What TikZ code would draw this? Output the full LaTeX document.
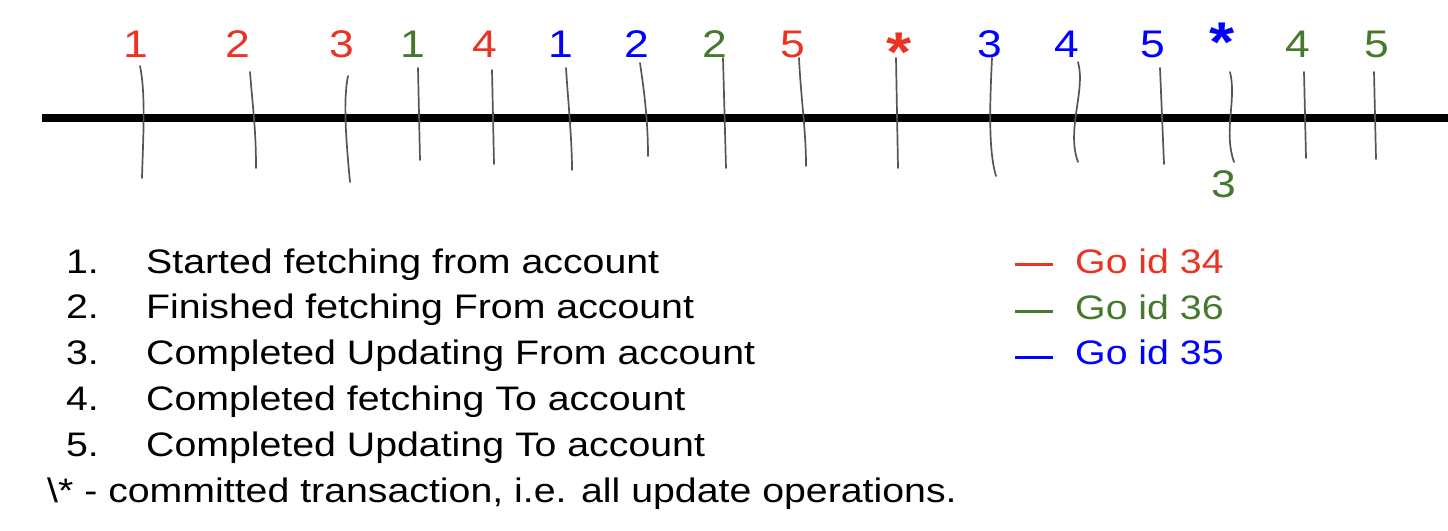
\documentclass[tikz,border=0pt]{standalone}
\usepackage{fontspec}
\setmainfont{Liberation Sans}[FakeStretch=1.155]
\definecolor{gred}{RGB}{234,51,35}
\definecolor{ggreen}{RGB}{70,120,45}
\definecolor{gblue}{RGB}{0,0,255}
\definecolor{tickgray}{RGB}{85,85,85}
\begin{document}
\begin{tikzpicture}[x=1pt,y=-1pt,
  lbl/.style={inner sep=0pt, anchor=base, font=\fontsize{38.5}{45}\selectfont},
  ast/.style={inner sep=0pt, anchor=north, font=\fontsize{56}{60}\selectfont\bfseries},
  txt/.style={inner sep=0pt, anchor=base west, font=\fontsize{34}{40}\selectfont},
  num/.style={inner sep=0pt, anchor=base east, font=\fontsize{34}{40}\selectfont},
  tickline/.style={draw=tickgray, line width=1.7pt, line cap=round},
  legline/.style={line width=3pt}]
\useasboundingbox (0,0) rectangle (1448,530);

% main time line
\coordinate (L) at (42,118);
\coordinate (R) at (1448,118);
\draw[line width=8.5pt] (L) -- (R);

% top labels
\node[lbl, text=gred]   (r1) at (136,57) {1};
\node[lbl, text=gred]   (r2) at (238,57) {2};
\node[lbl, text=gred]   (r3) at (342,57) {3};
\node[lbl, text=ggreen] (g1) at (413,57) {1};
\node[lbl, text=gred]   (r4) at (485,57) {4};
\node[lbl, text=gblue]  (b1) at (561,57) {1};
\node[lbl, text=gblue]  (b2) at (637,57) {2};
\node[lbl, text=ggreen] (g2) at (715,57) {2};
\node[lbl, text=gred]   (r5) at (793,57) {5};
\node[ast, text=gred]   (rs) at (899,33) {*};
\node[lbl, text=gblue]  (b3) at (990,57) {3};
\node[lbl, text=gblue]  (b4) at (1067,57) {4};
\node[lbl, text=gblue]  (b5) at (1153,57) {5};
\node[ast, text=gblue]  (bs) at (1222,23) {*};
\node[lbl, text=ggreen] (g4) at (1298,57) {4};
\node[lbl, text=ggreen] (g5) at (1377,57) {5};
\node[lbl, text=ggreen] (g3) at (1224,197) {3};

% ticks
\draw[tickline] (140,66) .. controls (146,95) and (143,140) .. (142,178);
\draw[tickline] (250,72) .. controls (253,110) and (256,130) .. (256,168);
\draw[tickline] (348,76) .. controls (343,100) and (346,140) .. (350,182);
\draw[tickline] (418,68) -- (420,160);
\draw[tickline] (492,70) -- (494,164);
\draw[tickline] (566,68) .. controls (568,100) and (572,140) .. (572,170);
\draw[tickline] (640,63) .. controls (644,90) and (648,120) .. (648,156);
\draw[tickline] (723,58) -- (726,168);
\draw[tickline] (799,58) .. controls (801,100) and (806,130) .. (806,166);
\draw[tickline] (896,58) -- (898,168);
\draw[tickline] (992,58) .. controls (990,100) and (988,150) .. (996,176);
\draw[tickline] (1078,62) .. controls (1086,90) and (1066,130) .. (1078,162);
\draw[tickline] (1160,68) -- (1164,164);
\draw[tickline] (1230,72) .. controls (1237,100) and (1223,130) .. (1234,162);
\draw[tickline] (1304,72) -- (1306,158);
\draw[tickline] (1374,72) -- (1376,159);

% list
\node[num] (n1) at (99,273) {1.};
\node[txt] (t1) at (146,273) {Started fetching from account};
\node[num] (n2) at (99,318.8) {2.};
\node[txt] (t2) at (146,318.8) {Finished fetching From account};
\node[num] (n3) at (99,364.6) {3.};
\node[txt] (t3) at (146,364.6) {Completed Updating From account};
\node[num] (n4) at (99,410.4) {4.};
\node[txt] (t4) at (146,410.4) {Completed fetching To account};
\node[num] (n5) at (99,456.2) {5.};
\node[txt] (t5) at (146,456.2) {Completed Updating To account};
\node[txt] (t6) at (47,502) {\textbackslash* - committed transaction, i.e. all update operations.};

% legend
\coordinate (la1) at (1015,264); \coordinate (lb1) at (1053,264);
\coordinate (la2) at (1015,311); \coordinate (lb2) at (1053,311);
\coordinate (la3) at (1015,357); \coordinate (lb3) at (1053,357);
\draw[legline, gred]   (la1) -- (lb1);
\draw[legline, ggreen] (la2) -- (lb2);
\draw[legline, gblue]  (la3) -- (lb3);
\node[txt, text=gred]   (k1) at (1075,273.5) {Go id 34};
\node[txt, text=ggreen] (k2) at (1075,319) {Go id 36};
\node[txt, text=gblue]  (k3) at (1075,364.5) {Go id 35};
\end{tikzpicture}
\end{document}
